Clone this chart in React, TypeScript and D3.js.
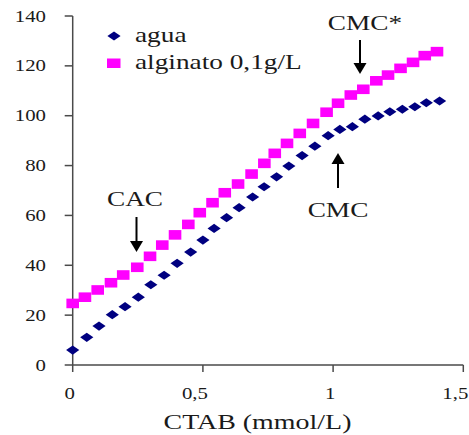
import React from "react";
import * as d3 from "d3";

// CTAB concentration (mmol/L) and measured values
const aguaX = [0, 0.054, 0.101, 0.152, 0.201, 0.252, 0.3, 0.351, 0.401, 0.453, 0.5, 0.543, 0.591, 0.639, 0.691, 0.735, 0.783, 0.83, 0.881, 0.93, 0.981, 1.026, 1.074, 1.122, 1.173, 1.218, 1.266, 1.314, 1.358, 1.409];
const aguaY = [6, 11.1, 15.6, 20.2, 23.4, 27.2, 32.2, 36.0, 40.8, 45.3, 50.1, 54.8, 59.1, 63.1, 67.4, 71.5, 75.5, 79.8, 84.0, 87.8, 92.0, 94.5, 95.6, 98.6, 99.9, 101.6, 102.6, 103.6, 105.2, 105.9];
const alginatoX = [0, 0.047, 0.096, 0.147, 0.194, 0.248, 0.297, 0.344, 0.393, 0.444, 0.488, 0.537, 0.584, 0.635, 0.687, 0.736, 0.776, 0.823, 0.872, 0.923, 0.975, 1.019, 1.068, 1.116, 1.166, 1.211, 1.259, 1.307, 1.352, 1.399];
const alginatoY = [24.7, 27.2, 30.1, 33.0, 36.1, 39.2, 43.6, 48.1, 52.2, 56.4, 61.1, 65.1, 69.1, 72.6, 76.6, 80.9, 84.9, 88.9, 92.9, 96.9, 101.4, 105.0, 108.3, 110.6, 114.0, 116.3, 119.0, 121.4, 124.1, 125.7];

const xTickValues = [0, 0.5, 1, 1.5];
const xTickLabels = ["0", "0,5", "1", "1,5"];
const yTickValues = [0, 20, 40, 60, 80, 100, 120, 140];
const seriesNames = ["agua", "alginato 0,1g/L"];
const xTitle = "CTAB (mmol/L)";

// annotations: [label, x value, y value of label]
const annotations = [
  { label: "CAC", x: 0.25, labelY: 45, arrowFrom: 45, arrowTo: 40, dir: "down" },
];

const FONT = "'Liberation Serif', 'Times New Roman', serif";
const SX = 1.3;

function T({ x, y, size, anchor = "start", children, fill = "#1a1a1a" }: any) {
  return (
    <text
      transform={`translate(${x},${y}) scale(${SX},1)`}
      fontFamily={FONT}
      fontSize={size}
      textAnchor={anchor}
      fill={fill}
    >
      {children}
    </text>
  );
}

function Arrow({ x, y1, y2 }: { x: number; y1: number; y2: number }) {
  // from y1 to tip at y2
  const dir = y2 > y1 ? 1 : -1;
  const head = 11;
  return (
    <g>
      <line x1={x} y1={y1} x2={x} y2={y2 - dir * head} stroke="#000" strokeWidth={2} />
      <path d={`M${x - 6.5},${y2 - dir * head} L${x + 6.5},${y2 - dir * head} L${x},${y2} Z`} fill="#000" />
    </g>
  );
}

export default function App() {
  const W = 469, H = 435;
  const x = d3.scaleLinear().domain([0, 1.5]).range([72.7, 463.3]);
  const y = d3.scaleLinear().domain([0, 140]).range([365, 16]);
  const axisColor = "#4a4a4a";

  const diamond = "M0,-4.6 L6.6,0 L0,4.6 L-6.6,0 Z";

  return (
    <svg width={W} height={H} style={{ position: "absolute", left: 0, top: 0, background: "#fff" }}>
      <rect width={W} height={H} fill="#fff" />
      {/* axes */}
      <line x1={x(0)} y1={y(0)} x2={x(1.5)} y2={y(0)} stroke={axisColor} strokeWidth={1.5} />
      <line x1={x(0)} y1={y(0)} x2={x(0)} y2={y(140)} stroke={axisColor} strokeWidth={1.5} />
      {yTickValues.map((v) => (
        <g key={"y" + v}>
          <line x1={x(0) - 8} x2={x(0)} y1={y(v)} y2={y(v)} stroke={axisColor} strokeWidth={1.5} />
          <T x={46} y={y(v) + 5.5} size={16} anchor="end">{String(v)}</T>
        </g>
      ))}
      {xTickValues.map((v, i) => (
        <g key={"x" + v}>
          <line x1={x(v)} x2={x(v)} y1={y(0)} y2={y(0) + 7} stroke={axisColor} strokeWidth={1.5} />
          <T x={x(v) + (xTickLabels[i].length > 1 ? -8 : -3)} y={399} size={16} anchor="middle">{xTickLabels[i]}</T>
        </g>
      ))}
      <T x={(162 + 353) / 2} y={429} size={21.5} anchor="middle">{xTitle}</T>

      {/* series */}
      {alginatoX.map((v, i) => (
        <rect key={"a" + i} x={x(v) - 6.3} y={y(alginatoY[i]) - 4.8} width={12.6} height={9.6} fill="#FF00FF" />
      ))}
      {aguaX.map((v, i) => (
        <path key={"w" + i} d={diamond} transform={`translate(${x(v)},${y(aguaY[i])})`} fill="#000080" />
      ))}

      {/* legend */}
      <path d={diamond} transform="translate(114,36)" fill="#000080" />
      <T x={135} y={42} size={21}>{seriesNames[0]}</T>
      <rect x={107} y={58.5} width={13.5} height={9.5} fill="#FF00FF" />
      <T x={135} y={69} size={21}>{seriesNames[1]}</T>

      {/* annotations */}
      <T x={135} y={206} size={21} anchor="middle">CAC</T>
      <Arrow x={136.5} y1={217} y2={252} />
      <T x={365} y={30} size={21} anchor="middle">CMC*</T>
      <Arrow x={360} y1={40} y2={74} />
      <T x={338} y={217} size={21} anchor="middle">CMC</T>
      <Arrow x={338} y1={188} y2={153} />
    </svg>
  );
}
